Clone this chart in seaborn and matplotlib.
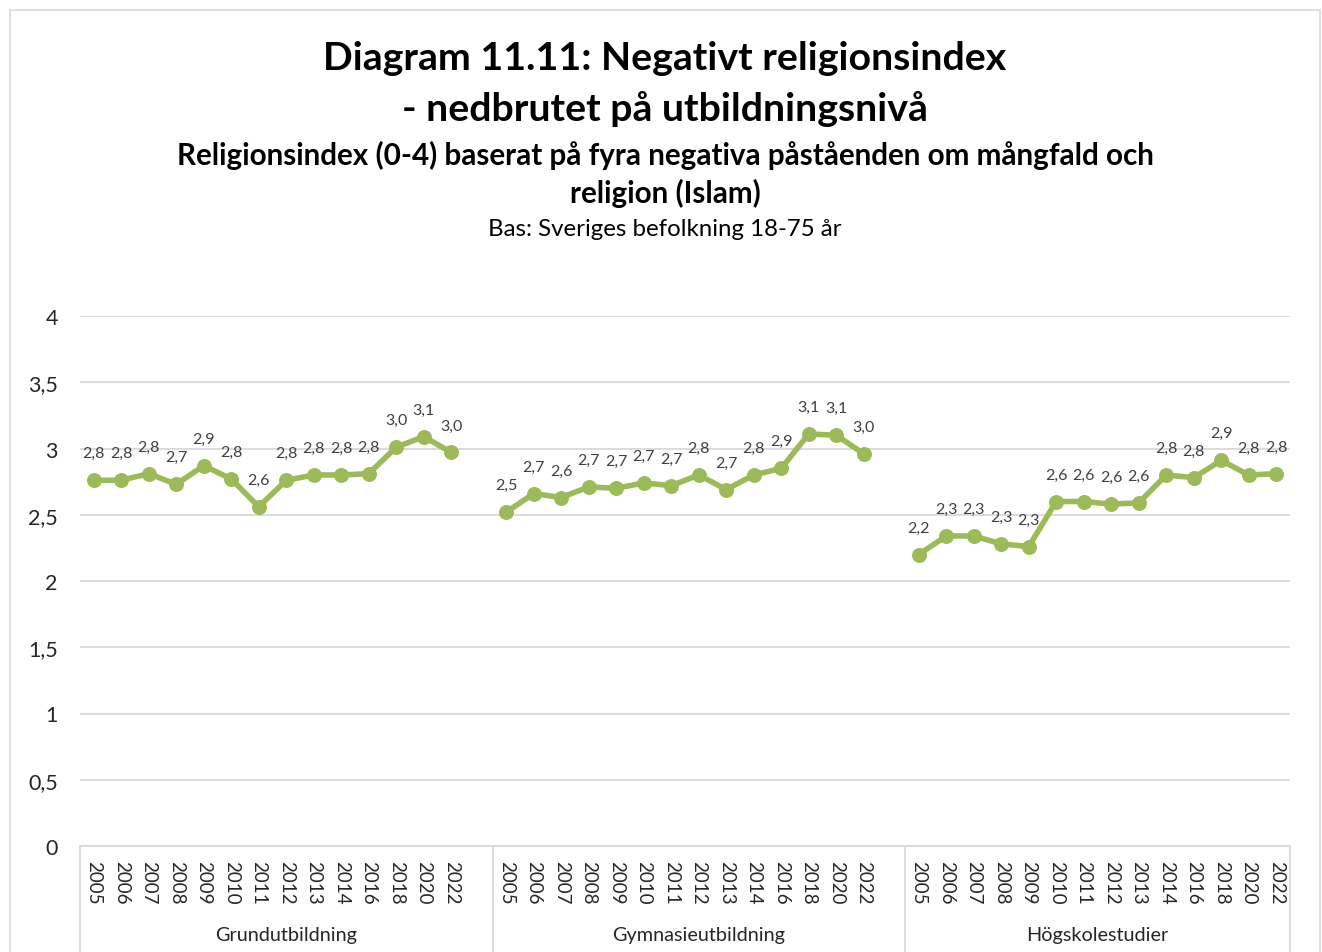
import matplotlib
matplotlib.use("Agg")
import matplotlib.pyplot as plt
import matplotlib.transforms as mtransforms
from matplotlib.patches import Rectangle
import seaborn as sns
import pandas as pd

# Survey years shown for each education level
years = ["2005", "2006", "2007", "2008", "2009", "2010", "2011",
         "2012", "2013", "2014", "2016", "2018", "2020", "2022"]
groups = ["Grundutbildning", "Gymnasieutbildning", "Högskolestudier"]

# Mean negative religion index (0-4) per year
grund = [2.76, 2.76, 2.81, 2.73, 2.87, 2.77, 2.56, 2.76, 2.80, 2.80, 2.81, 3.01, 3.09, 2.97]
gymnasie = [2.52, 2.66, 2.63, 2.71, 2.70, 2.74, 2.72, 2.80, 2.69, 2.80, 2.85, 3.11, 3.10, 2.96]
hogskola = [2.20, 2.34, 2.34, 2.28, 2.26, 2.60, 2.60, 2.58, 2.59, 2.80, 2.78, 2.91, 2.80, 2.81]

yticks = [0, 0.5, 1, 1.5, 2, 2.5, 3, 3.5, 4]

GREEN = "#9BBB59"
GRID = "#D9D9D9"
TXT = "#404040"

# Each group occupies a block of category slots; the first two blocks end
# with one empty slot, as in the category axis of the source workbook.
block = [len(years) + 1, len(years) + 1, len(years)]
starts = [0, block[0], block[0] + block[1]]
n_slots = sum(block)

rows = []
for gi, (g, vals) in enumerate(zip(groups, [grund, gymnasie, hogskola])):
    for yi, (yr, v) in enumerate(zip(years, vals)):
        rows.append({"group": g, "year": yr, "pos": starts[gi] + yi, "value": v})
df = pd.DataFrame(rows)

sns.set_theme(style="white")
plt.rcParams["font.family"] = ["Lato", "DejaVu Sans"]

W, H = 1322, 953
fig = plt.figure(figsize=(W / 100, H / 100), dpi=100)

# Outer chart frame
fig.patches.append(Rectangle((10 / W, -0.05), 1310 / W, 1.05 - 11 / H,
                             transform=fig.transFigure, fill=False,
                             edgecolor="#D9D9D9", linewidth=1.2))

ax = fig.add_axes([80 / W, 106 / H, 1210 / W, 530 / H])

sns.lineplot(data=df, x="pos", y="value", units="group", estimator=None,
             color=GREEN, linewidth=4, marker="o", markersize=10,
             markeredgecolor=GREEN, markerfacecolor=GREEN, ax=ax, legend=False)

for _, r in df.iterrows():
    ax.annotate(f"{r['value']:.1f}".replace(".", ","), (r["pos"], r["value"]),
                xytext=(0, 19.5), textcoords="offset points",
                ha="center", va="center", fontsize=11.5, color=TXT)

ax.set_xlim(-0.5, n_slots - 0.5)
ax.set_ylim(0, 4)
ax.set_yticks(yticks)
ax.set_yticklabels([f"{t:g}".replace(".", ",") for t in yticks], fontsize=15.5, color="#262626")
ax.yaxis.grid(True, color=GRID, linewidth=1.3)
ax.set_axisbelow(True)
ax.tick_params(axis="y", length=0, pad=16)
ax.set_xticks(df["pos"])
ax.set_xticklabels(df["year"], rotation=-90, fontsize=13.5, color="#262626")
ax.tick_params(axis="x", length=0, pad=10)
ax.set_xlabel("")
ax.set_ylabel("")
for s in ["top", "right", "left"]:
    ax.spines[s].set_visible(False)
ax.spines["bottom"].set_color(GRID)
ax.spines["bottom"].set_linewidth(1.3)

# Group separators and group names below the year labels
trans = mtransforms.blended_transform_factory(ax.transData, ax.transAxes)
edges = [starts[0] - 0.5] + [starts[i] + block[i] - 0.5 for i in range(len(groups))]
for xb in edges:
    ax.plot([xb, xb], [0, -0.2], transform=trans, color=GRID, linewidth=1.3, clip_on=False)
for gi, g in enumerate(groups):
    ax.text((edges[gi] + edges[gi + 1]) / 2, -0.1666, g, transform=trans,
            ha="center", va="center", fontsize=14.3, color="#262626")

cx = 665 / W
fig.text(cx, 1 - 58 / H, "Diagram 11.11: Negativt religionsindex", ha="center", va="center",
         fontsize=28.3, fontweight="bold", color="black")
fig.text(cx, 1 - 109 / H, "- nedbrutet på utbildningsnivå", ha="center", va="center",
         fontsize=28.3, fontweight="bold", color="black")
fig.text(cx, 1 - 155 / H, "Religionsindex (0-4) baserat på fyra negativa påståenden om mångfald och",
         ha="center", va="center", fontsize=21.3, fontweight="bold", color="black")
fig.text(cx, 1 - 193 / H, "religion (Islam)", ha="center", va="center",
         fontsize=21.3, fontweight="bold", color="black")
fig.text(cx, 1 - 230 / H, "Bas: Sveriges befolkning 18-75 år", ha="center", va="center",
         fontsize=17.3, color="black")

fig.savefig("out.png", dpi=100)
